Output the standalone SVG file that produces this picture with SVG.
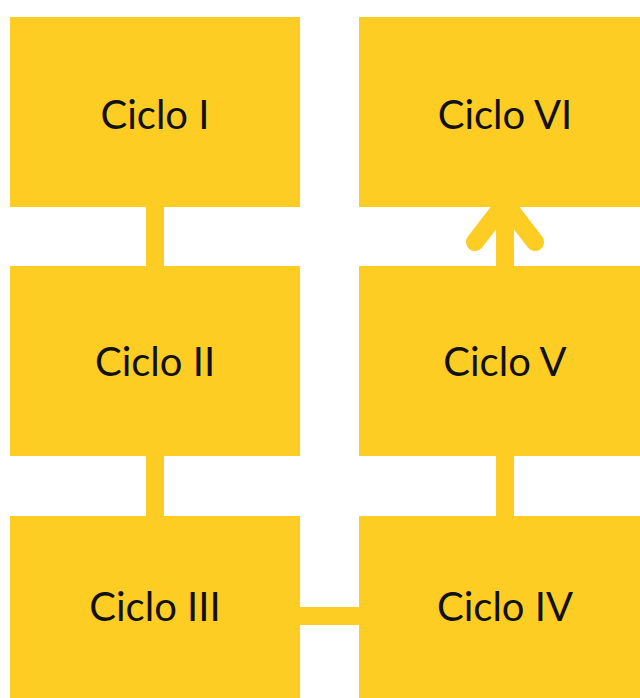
<svg xmlns="http://www.w3.org/2000/svg" width="640" height="698" viewBox="0 0 640 698">
<style>
.box{fill:#FECD23}
.lbl{font-family:"Lato","Noto Sans",sans-serif;font-size:40px;fill:#111;text-anchor:middle}
.conn{stroke:#FECD23;stroke-width:18;fill:none}
.head{stroke:#FECD23;stroke-width:18;fill:none;stroke-linecap:round;stroke-linejoin:round}
</style>
<rect width="640" height="698" fill="#fff"/>
<g id="connectors">
<line class="conn" x1="155" y1="200" x2="155" y2="270"/>
<line class="conn" x1="155" y1="450" x2="155" y2="520"/>
<line class="conn" x1="295" y1="616" x2="365" y2="616"/>
<line class="conn" x1="505" y1="450" x2="505" y2="520"/>
<line class="conn" x1="505" y1="270" x2="505" y2="215"/>
<polyline class="head" points="475,242 505,203 535,242"/>
</g>
<g id="n1"><rect class="box" x="10" y="17" width="290" height="190"/><text class="lbl" x="155" y="129">Ciclo I</text></g>
<g id="n2"><rect class="box" x="10" y="266" width="290" height="190"/><text class="lbl" x="155" y="376">Ciclo II</text></g>
<g id="n3"><rect class="box" x="10" y="516" width="290" height="190"/><text class="lbl" x="155" y="621">Ciclo III</text></g>
<g id="n4"><rect class="box" x="359" y="516" width="292" height="190"/><text class="lbl" x="505" y="621">Ciclo IV</text></g>
<g id="n5"><rect class="box" x="359" y="266" width="292" height="190"/><text class="lbl" x="505" y="376">Ciclo V</text></g>
<g id="n6"><rect class="box" x="359" y="17" width="292" height="190"/><text class="lbl" x="505" y="129">Ciclo VI</text></g>
</svg>
